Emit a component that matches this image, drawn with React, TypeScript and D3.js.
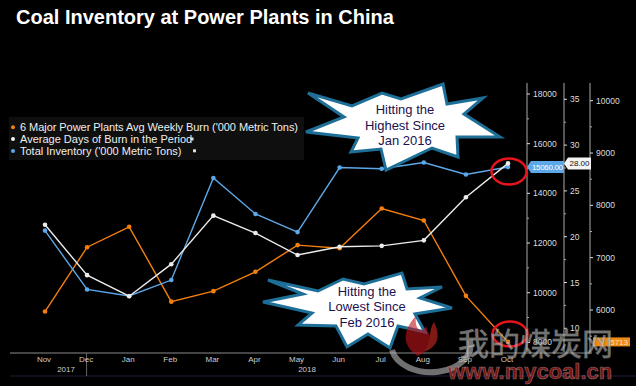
import React from 'react';
import * as d3 from 'd3';

const width = 636;
const height = 386;

// monthly points, Nov 2017 .. Oct 2018
const months = ['Nov', 'Dec', 'Jan', 'Feb', 'Mar', 'Apr', 'May', 'Jun', 'Jul', 'Aug', 'Sep', 'Oct'];
const years = ['2017', '2018'];

// Total Inventory ('000 Metric Tons) - left axis
const inventory = [12500, 10130, 9870, 10510, 14620, 13170, 12440, 15040, 14990, 15240, 14760, 15060];
// Average Days of Burn in the Period - middle axis
const daysOfBurn = [21.3, 15.8, 13.5, 17.0, 22.3, 20.4, 18.0, 18.9, 19.0, 19.6, 24.3, 28.0];
// 6 Major Power Plants Avg Weekly Burn - right axis
const weeklyBurn = [5970, 7200, 7590, 6160, 6360, 6730, 7240, 7180, 7940, 7710, 6270, 5390];

const invTicks = [8000, 10000, 12000, 14000, 16000, 18000];
const invMinor = [9000, 11000, 13000, 15000, 17000];
const daysTicks = [10, 15, 20, 25, 30, 35];
const daysMinor = [12.5, 17.5, 22.5, 27.5, 32.5];
const burnTicks = [6000, 7000, 8000, 9000, 10000];
const burnMinor = [5500, 6500, 7500, 8500, 9500];

const legendItems = [
  { label: "6 Major Power Plants Avg Weekly Burn ('000 Metric Tons)", color: '#f57f0c' },
  { label: 'Average Days of Burn in the Period', color: '#f2f2f2' },
  { label: "Total Inventory ('000 Metric Tons)", color: '#5ca8e8' },
];

const lastLabels = ['15060.00', '28.00', '5713'];

const ORANGE = '#f57f0c';
const WHITE = '#ececec';
const BLUE = '#5ca8e8';

// starburst callouts
const burstHigh = [
  [308, 93], [352, 106], [382, 93], [401, 99], [443, 84], [447, 104], [483, 98], [464, 114],
  [500, 137], [457, 137], [458, 157], [432, 148], [386, 170], [381, 149], [351, 152], [358, 138],
  [306, 132], [344, 117],
];
const burstLow = [
  [268, 280], [318, 291], [343, 279], [364, 284], [402, 273], [407, 289], [442, 287], [420, 298],
  [452, 308], [415, 314], [425, 332], [398, 326], [390, 348], [368, 334], [347, 347], [336, 326],
  [298, 325], [312, 313], [263, 302], [303, 294],
];

export default function App() {
  const x = d3.scalePoint<string>().domain(months).range([45, 508]);
  const yInv = d3.scaleLinear().domain([10000, 18000]).range([292.7, 94]);
  const yDays = d3.scaleLinear().domain([10, 35]).range([328.3, 99.3]);
  const yBurn = d3.scaleLinear().domain([6000, 10000]).range([310, 100.7]);

  const axisTop = 83;
  const axisBottom = 352;
  const baseY = 353;

  const series = [
    { data: weeklyBurn, y: yBurn, color: ORANGE },
    { data: inventory, y: yInv, color: BLUE },
    { data: daysOfBurn, y: yDays, color: WHITE },
  ];

  const axes = [
    { x: 527, y: yInv, ticks: invTicks, minor: invMinor },
    { x: 564, y: yDays, ticks: daysTicks, minor: daysMinor },
    { x: 590, y: yBurn, ticks: burnTicks, minor: burnMinor },
  ];

  const inRange = (v: number) => v >= axisTop && v <= axisBottom;
  const burstPath = (pts: number[][]) => d3.line()(pts as [number, number][]) + 'Z';

  const last = months.length - 1;
  const invTagY = yInv(inventory[last]);
  const daysTagY = yDays(daysOfBurn[last]);
  const burnTagY = yBurn(weeklyBurn[last]);

  return (
    <svg width={width} height={height} style={{ position: 'fixed', left: 0, top: 0, background: '#000' }}
      fontFamily="'Liberation Sans', Arial, sans-serif">
      <rect width={width} height={height} fill="#000" />
      <text x={16} y={24} fill="#fff" fontSize={20} fontWeight="bold">
        Coal Inventory at Power Plants in China
      </text>

      {/* legend */}
      <rect x={9} y={117} width={295} height={43} fill="#0f0f0f" />
      {legendItems.map((d, i) => (
        <g key={d.label} transform={`translate(0, ${127.3 + i * 11.8})`}>
          <circle cx={13} cy={0} r={2} fill={d.color} />
          <text x={20} y={4} fill="#eee" fontSize={11} textLength={i === 0 ? 278 : undefined}>
            {d.label}
          </text>
        </g>
      ))}
      <rect x={190.5} y={137.5} width={3} height={3} fill="#ddd" />
      <rect x={193} y={149.3} width={3} height={3} fill="#ddd" />

      {/* x axis */}
      <line x1={10} x2={592} y1={baseY} y2={baseY} stroke="#8a8a8a" strokeWidth={1.2} />
      <line x1={10} x2={636} y1={376} y2={376} stroke="#1c1c3a" strokeWidth={1} />
      <line x1={x('Dec')! - 0.5} x2={x('Dec')! - 0.5} y1={baseY} y2={376} stroke="#666" />
      {months.map(m => (
        <text key={m} x={x(m)! - 1} y={362} fill="#ccc" fontSize={8} textAnchor="middle">{m}</text>
      ))}
      <text x={(x('Nov')! + x('Dec')!) / 2} y={372} fill="#ccc" fontSize={8} textAnchor="middle">{years[0]}</text>
      <text x={(x('Dec')! + 527) / 2} y={372} fill="#ccc" fontSize={8} textAnchor="middle">{years[1]}</text>

      {/* y axes */}
      {axes.map((a, i) => (
        <g key={i}>
          <line x1={a.x} x2={a.x} y1={axisTop} y2={axisBottom} stroke="#aaa" strokeWidth={1} />
          {a.minor.filter(t => inRange(a.y(t))).map(t => (
            <line key={t} x1={a.x} x2={a.x + 2} y1={a.y(t)} y2={a.y(t)} stroke="#aaa" />
          ))}
          {a.ticks.filter(t => inRange(a.y(t))).map(t => (
            <g key={t}>
              <line x1={a.x} x2={a.x + 3} y1={a.y(t)} y2={a.y(t)} stroke="#ddd" />
              <text x={a.x + 6} y={a.y(t) + 3} fill="#ddd" fontSize={8.5}>{t}</text>
            </g>
          ))}
        </g>
      ))}

      {/* series */}
      {series.map((s, i) => {
        const line = d3.line<number>().x((_, j) => x(months[j])!).y(v => s.y(v));
        return (
          <g key={i}>
            <path d={line(s.data)!} fill="none" stroke={s.color} strokeWidth={1.4} />
            {s.data.map((v, j) => (
              <circle key={j} cx={x(months[j])!} cy={s.y(v)} r={2.3} fill={s.color} />
            ))}
          </g>
        );
      })}

      {/* last value tags */}
      <path d={`M527,${invTagY} L531,${invTagY - 6} L564,${invTagY - 6} L564,${invTagY + 6} L531,${invTagY + 6} Z`} fill={BLUE} />
      <text x={547.5} y={invTagY + 3} fill="#fff" fontSize={8} textAnchor="middle" textLength={31}>{lastLabels[0]}</text>
      <path d={`M564,${daysTagY} L568,${daysTagY - 6} L591,${daysTagY - 6} L591,${daysTagY + 6} L568,${daysTagY + 6} Z`} fill="#f4f4f4" />
      <text x={579.5} y={daysTagY + 3} fill="#111" fontSize={8} textAnchor="middle">{lastLabels[1]}</text>
      <rect x={593} y={burnTagY - 4.5} width={37} height={9} fill="#f08a12" />
      <text x={628} y={burnTagY + 3} fill="#f7e0c0" fontSize={8} textAnchor="end">{lastLabels[2]}</text>

      {/* red circles */}
      <ellipse cx={509} cy={171.5} rx={17.5} ry={13} fill="none" stroke="#e8141c" strokeWidth={2.5} />
      <ellipse cx={510} cy={334} rx={17.5} ry={12.5} fill="none" stroke="#e8141c" strokeWidth={2.5} />

      {/* callouts */}
      <path d={burstPath(burstHigh)} fill="#fff" stroke="#1d6f98" strokeWidth={3} strokeLinejoin="miter" />
      <g fill="#1b1150" fontSize={13} textAnchor="middle">
        <text x={405} y={114}>Hitting the</text>
        <text x={405} y={129.5}>Highest Since</text>
        <text x={405} y={145}>Jan 2016</text>
      </g>
      <path d={burstPath(burstLow)} fill="#fff" stroke="#1d6f98" strokeWidth={3} strokeLinejoin="miter" />
      <g fill="#1b1150" fontSize={13} textAnchor="middle">
        <text x={367} y={296}>Hitting the</text>
        <text x={367} y={311}>Lowest Since</text>
        <text x={367} y={326.5}>Feb 2016</text>
      </g>

      {/* watermark */}
      <g opacity={0.6}>
        <path d="M392,350 A38,26 0 1,0 470,340" fill="none" stroke="#bbb" strokeWidth={6} />
        <path d="M418,356 C400,345 404,328 416,316 C414,330 422,334 426,326 C430,338 436,346 418,356 Z" fill="#c2141c" />
        <path d="M424,352 C432,342 428,330 434,322 C440,334 440,346 424,352 Z" fill="#d42a20" />
      </g>
      <text x={458} y={355} fontSize={31} fill="#d8d8d8" fillOpacity={0.55} stroke="#777" strokeOpacity={0.7} strokeWidth={0.8}
        fontFamily="'Noto Sans CJK SC', sans-serif">我的煤炭网</text>
      <text x={448} y={379} fontSize={22} fontWeight="bold" fill="#9b1a1a" fillOpacity={0.8} stroke="#c8c8c8" strokeOpacity={0.5} strokeWidth={0.6}>
        www.mycoal.cn
      </text>
    </svg>
  );
}
